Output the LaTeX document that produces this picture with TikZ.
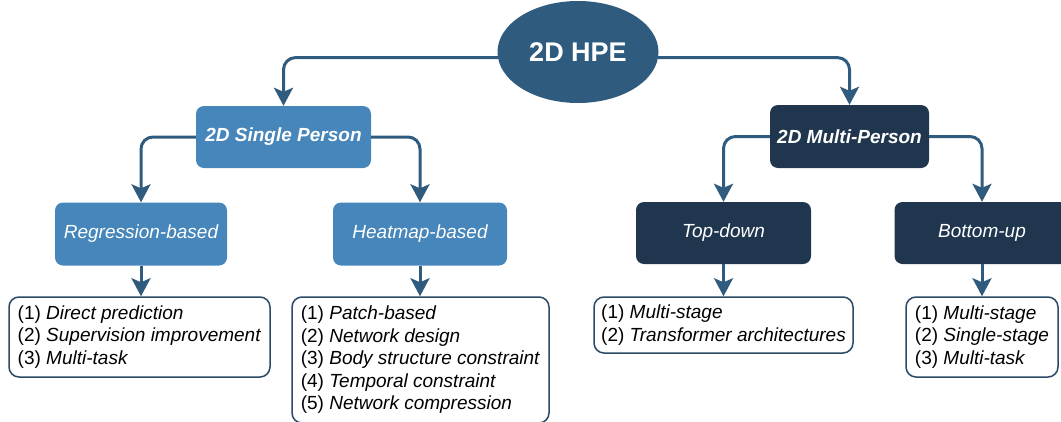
\documentclass[tikz,border=0pt]{standalone}
\usepackage{fontspec}
\setmainfont{Liberation Sans}
\usetikzlibrary{arrows.meta,shapes.geometric}
\definecolor{hpeblue}{HTML}{2E5B7E}
\definecolor{singleblue}{HTML}{4686BA}
\definecolor{multinavy}{HTML}{1F364E}
\definecolor{listedge}{HTML}{2B4A67}
\begin{document}
\begin{tikzpicture}[x=1pt,y=-1pt,
  conn/.style={draw=hpeblue, line width=3pt, rounded corners=12pt,
    -{Stealth[length=18pt,width=19pt,inset=4pt]}},
  headbox/.style={rectangle, rounded corners=8pt, inner sep=0pt,
    text=white, font=\fontsize{19}{22}\selectfont\bfseries\itshape},
  subbox/.style={rectangle, rounded corners=8pt, inner sep=0pt,
    text=white, font=\fontsize{19}{22}\selectfont\itshape},
  single/.style={fill=singleblue},
  multi/.style={fill=multinavy},
  listbox/.style={rectangle, rounded corners=10pt, draw=listedge,
    line width=1.5pt, fill=white, inner sep=0pt, align=left,
    font=\fontsize{19}{22.5}\selectfont}]
\useasboundingbox (0,0) rectangle (1061,421);

% root
\node[ellipse, fill=hpeblue, minimum width=161pt, minimum height=102pt,
  inner sep=0pt, text=white, font=\fontsize{27}{30}\selectfont\bfseries]
  (hpe) at (578,52) {2D HPE};

% first level
\node[headbox, single, minimum width=175pt, minimum height=62pt]
  (sp) at (283.5,137) {2D Single Person};
\node[headbox, multi, minimum width=159pt, minimum height=63pt]
  (mp) at (849.5,136.5) {2D Multi-Person};

% second level
\node[subbox, single, minimum width=172pt, minimum height=63pt]
  (reg) at (141,234) {Regression-based};
\node[subbox, single, minimum width=174pt, minimum height=63pt]
  (hm) at (420,234) {Heatmap-based};
\node[subbox, multi, minimum width=175pt, minimum height=62pt]
  (td) at (723.5,233) {Top-down};
\node[subbox, multi, minimum width=175pt, minimum height=62pt]
  (bu) at (982,233) {Bottom-up};

% method lists
\node[listbox, minimum width=261pt, minimum height=80pt] (l1) at (139.5,337)
  {(1) \textit{Direct prediction}\\(2) \textit{Supervision improvement}\\(3) \textit{Multi-task}};
\node[listbox, minimum width=257pt, minimum height=126pt] (l2) at (420.5,360)
  {(1) \textit{Patch-based}\\(2) \textit{Network design}\\(3) \textit{Body structure constraint}\\(4) \textit{Temporal constraint}\\(5) \textit{Network compression}};
\node[listbox, minimum width=259pt, minimum height=56pt] (l3) at (723.5,325)
  {(1) \textit{Multi-stage}\\(2) \textit{Transformer architectures}};
\node[listbox, minimum width=152pt, minimum height=80pt] (l4) at (982,337)
  {(1) \textit{Multi-stage}\\(2) \textit{Single-stage}\\(3) \textit{Multi-task}};

% connectors
\draw[conn] (hpe.184) -| (sp.north);
\draw[conn] (hpe.-4) -| (mp.north);
\draw[conn] (sp.west) -| (reg.north);
\draw[conn] (sp.east) -| (hm.north);
\draw[conn] (mp.west) -| (td.north);
\draw[conn] (mp.east) -| (bu.north);
\draw[conn] (reg.south) -- (reg.south |- l1.north);
\draw[conn] (hm.south) -- (hm.south |- l2.north);
\draw[conn] (td.south) -- (td.south |- l3.north);
\draw[conn] (bu.south) -- (bu.south |- l4.north);
\end{tikzpicture}
\end{document}
